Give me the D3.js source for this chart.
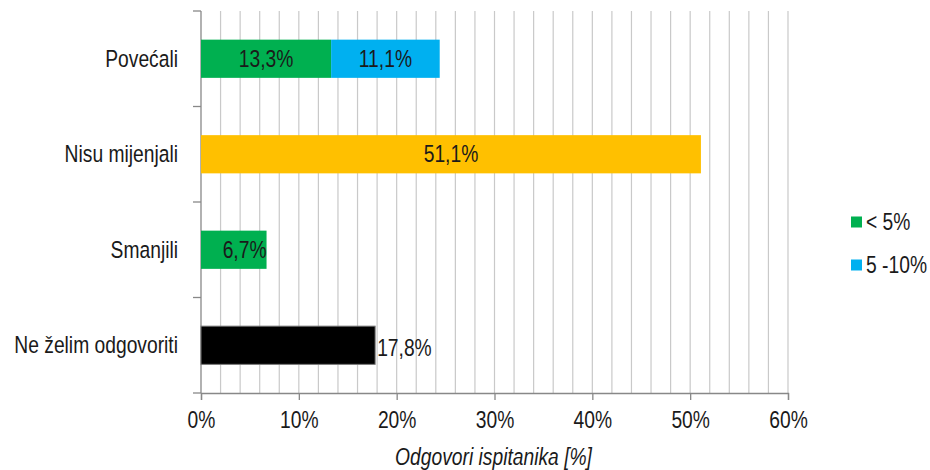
<!DOCTYPE html>
<html>
<head>
<meta charset="utf-8">
<script src="https://cdn.jsdelivr.net/npm/d3@7"></script>
<style>
  body { margin: 0; background: #fff; }
  text { font-family: "Liberation Sans Narrow", "Arial Narrow", "Liberation Sans", Arial, sans-serif; fill: #1a1a1a; }
</style>
</head>
<body>
<div class="chart"></div>
<script>
// data
var categories = ["Povećali", "Nisu mijenjali", "Smanjili", "Ne želim odgovoriti"];
var lessThan5 = [13.3, 51.1, 6.7, 17.8];
var from5to10 = [11.1, 0, 0, 0];
var seriesNames = ["< 5%", "5 -10%"];
var xTicks = [0, 10, 20, 30, 40, 50, 60];

var svgWidth = 930;
var svgHeight = 470;
var margin = { top: 11, right: 142, bottom: 77, left: 201 };
var width = svgWidth - margin.left - margin.right;
var height = svgHeight - margin.top - margin.bottom;

// the original uses a condensed face, squeeze the text horizontally
var narrow = 0.82;
var fontSize = "23.5px";

var green = "#00b050", blue = "#00b0f0";
// individual points recoloured in the original
var pointColors = [green, "#ffc000", green, "#000000"];

var svg = d3.select(".chart")
  .append("svg")
  .attr("width", svgWidth)
  .attr("height", svgHeight);

var chartGroup = svg.append("g")
  .attr("transform", `translate(${margin.left}, ${margin.top})`);

var xScale = d3.scaleLinear().domain([0, 60]).range([0, width]);
var yScale = d3.scaleBand().domain(categories).range([0, height]).paddingInner(0.6).paddingOuter(0.3);

// minor vertical gridlines every 2%
chartGroup.append("g")
  .selectAll("line")
  .data(d3.range(2, 61, 2))
  .enter()
  .append("line")
  .attr("x1", d => xScale(d)).attr("x2", d => xScale(d))
  .attr("y1", 0).attr("y2", height)
  .attr("stroke", "#c9c9c9")
  .attr("stroke-width", 1.2);

// x axis
var bottomAxis = d3.axisBottom(xScale)
  .tickValues(xTicks)
  .tickSize(7)
  .tickPadding(11)
  .tickFormat(d => d + "%");
var xAxis = chartGroup.append("g")
  .attr("transform", `translate(0, ${height})`)
  .call(bottomAxis);
xAxis.select(".domain").attr("stroke", "#888").attr("stroke-width", 1.3);
xAxis.selectAll(".tick line").attr("stroke", "#888").attr("stroke-width", 1.3);
xAxis.selectAll("text")
  .style("font-size", fontSize)
  .attr("fill", "#1a1a1a")
  .attr("transform", `scale(${narrow},1)`);

// y axis: ticks sit between categories
var step = height / categories.length;
var yAxis = chartGroup.append("g");
yAxis.append("line")
  .attr("x1", 0).attr("x2", 0).attr("y1", 0).attr("y2", height)
  .attr("stroke", "#888").attr("stroke-width", 1.3);
yAxis.selectAll(".ytick")
  .data(d3.range(0, categories.length + 1))
  .enter()
  .append("line")
  .attr("x1", -8).attr("x2", 0)
  .attr("y1", d => d * step).attr("y2", d => d * step)
  .attr("stroke", "#888").attr("stroke-width", 1.3);
yAxis.selectAll(".ylabel")
  .data(categories)
  .enter()
  .append("text")
  .attr("transform", d => `translate(-23, ${yScale(d) + yScale.bandwidth() / 2}) scale(${narrow},1)`)
  .attr("dy", "0.35em")
  .attr("text-anchor", "end")
  .style("font-size", fontSize)
  .text(d => d);

// bars
var rows = categories.map((c, i) => ({ cat: c, a: lessThan5[i], b: from5to10[i], color: pointColors[i] }));

chartGroup.selectAll(".barA")
  .data(rows)
  .enter()
  .append("rect")
  .attr("x", 0)
  .attr("y", d => yScale(d.cat))
  .attr("width", d => xScale(d.a))
  .attr("height", yScale.bandwidth())
  .attr("fill", d => d.color)
  .attr("stroke", d => d.color == "#000000" ? "#777" : "none")
  .attr("stroke-width", 1);

chartGroup.selectAll(".barB")
  .data(rows.filter(d => d.b > 0))
  .enter()
  .append("rect")
  .attr("x", d => xScale(d.a))
  .attr("y", d => yScale(d.cat))
  .attr("width", d => xScale(d.b))
  .attr("height", yScale.bandwidth())
  .attr("fill", blue);

function fmt(v) { return v.toFixed(1).replace(".", ",") + "%"; }

// value labels
var labels = [];
rows.forEach(function (d, i) {
  var yc = yScale(d.cat) + yScale.bandwidth() / 2;
  if (i == 3) {
    labels.push({ x: xScale(d.a) + 2, y: yc + 3, anchor: "start", t: fmt(d.a) });
  } else if (i == 2) {
    labels.push({ x: xScale(d.a), y: yc, anchor: "end", t: fmt(d.a) });
  } else {
    labels.push({ x: xScale(d.a / 2), y: yc, anchor: "middle", t: fmt(d.a) });
  }
  if (d.b > 0) labels.push({ x: xScale(d.a + d.b / 2), y: yc, anchor: "middle", t: fmt(d.b) });
});
chartGroup.selectAll(".vlabel")
  .data(labels)
  .enter()
  .append("text")
  .attr("transform", d => `translate(${d.x}, ${d.y}) scale(${narrow},1)`)
  .attr("dy", "0.35em")
  .attr("text-anchor", d => d.anchor)
  .style("font-size", fontSize)
  .text(d => d.t);

// axis title
svg.append("text")
  .attr("transform", `translate(${margin.left + width / 2 - 1}, 465) scale(${narrow},1)`)
  .attr("text-anchor", "middle")
  .style("font-size", fontSize)
  .style("font-style", "italic")
  .text("Odgovori ispitanika [%]");

// legend
var legend = svg.append("g").attr("transform", "translate(851, 222)");
var items = legend.selectAll("g")
  .data(seriesNames)
  .enter()
  .append("g")
  .attr("transform", (d, i) => `translate(0, ${i * 43})`);
items.append("rect")
  .attr("x", 0).attr("y", -5.5)
  .attr("width", 11).attr("height", 11)
  .attr("fill", (d, i) => i == 0 ? green : blue);
items.append("text")
  .attr("transform", `translate(15, 0) scale(${narrow},1)`)
  .attr("dy", "0.35em")
  .style("font-size", fontSize)
  .text(d => d);
</script>
</body>
</html>
